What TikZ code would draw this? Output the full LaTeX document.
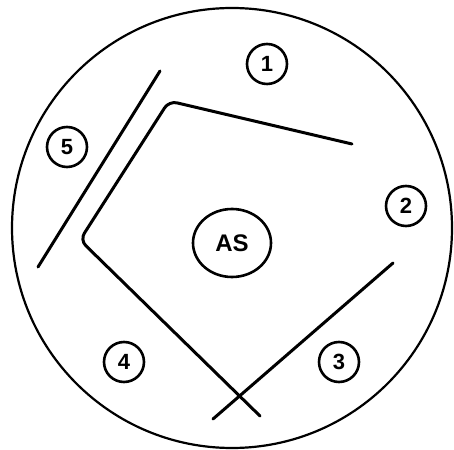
\documentclass[tikz,border=0pt]{standalone}
\usepackage{fontspec}
\setmainfont{Liberation Sans}
\usetikzlibrary{shapes.geometric}

\begin{document}
\begin{tikzpicture}[x=0.5pt, y=0.5pt, line cap=round, line join=round,
    every node/.style={font=\bfseries},
    zone/.style={draw, circle, line width=1.3pt, minimum size=20pt, inner sep=0pt, font=\bfseries\fontsize{11}{11}\selectfont},
    wall/.style={line width=1.5pt}]
  \useasboundingbox (0,0) rectangle (454,449);
  % outer boundary
  \draw[line width=1.1pt] (232,221) circle (220);
  % centre
  \node[draw, ellipse, line width=1.3pt, minimum width=39pt, minimum height=34pt, inner sep=0pt, font=\bfseries\fontsize{12}{12}\selectfont] (AS) at (232,206) {AS};
  % zones
  \node[zone] (Z1) at (267,385) {1};
  \node[zone] (Z2) at (406,243) {2};
  \node[zone] (Z3) at (339,87) {3};
  \node[zone] (Z4) at (124,87) {4};
  \node[zone] (Z5) at (67,302) {5};
  % walls
  \draw[wall] (160,378) -- (38,182);
  \draw[wall, rounded corners=4pt] (352,305) -- (169,348) -- (80,209) -- (260,33);
  \draw[wall] (393,186) -- (213,30);
\end{tikzpicture}
\end{document}
